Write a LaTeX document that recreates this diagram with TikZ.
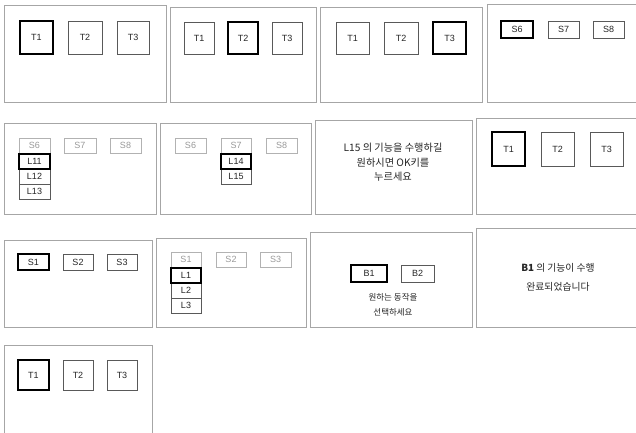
\documentclass[tikz,border=0pt]{standalone}
\usepackage{fontspec}
\setmainfont{Liberation Sans}
\newfontfamily\kr{Noto Sans CJK KR}
\newcommand\mkbox[7]{\node[#6, minimum width={#4-#2}, minimum height={#5-#3}] (#1) at ({(#2+#4)/2},{(#3+#5)/2}) {#7};}
\tikzset{
  panel/.style={draw=black!35, line width=1pt},
  bx/.style={draw=black!65, line width=0.9pt, inner sep=0pt, font=\fontsize{9}{10}\selectfont, text=black!85},
  sel/.style={bx, draw=black, line width=2.5pt},
  dim/.style={bx, draw=black!30, text=black!40},
  msg/.style={align=center, text=black!85, inner sep=0pt}
}
\begin{document}
\begin{tikzpicture}[x=1pt,y=-1pt]
\useasboundingbox (0,0) rectangle (636,432);
\clip (0,0) rectangle (636,432);
\fill[white] (0,0) rectangle (636,432);
% panels
\draw[panel] (4,5) rectangle (166,102);
\draw[panel] (170,7) rectangle (316,102);
\draw[panel] (320,7) rectangle (482,102);
\draw[panel] (487,4) rectangle (645,102);
\draw[panel] (4,123) rectangle (156,214);
\draw[panel] (160,123) rectangle (311,214);
\draw[panel] (315,120) rectangle (472,214);
\draw[panel] (476,118) rectangle (645,214);
\draw[panel] (4,240) rectangle (152,327);
\draw[panel] (156,238) rectangle (306,327);
\draw[panel] (310,232) rectangle (472,327);
\draw[panel] (476,228) rectangle (645,327);
\draw[panel] (4,345) rectangle (152,445);
% panel 1
\mkbox{aT1}{20}{21}{53}{54}{sel}{T1}
\mkbox{aT2}{68}{21}{102}{54}{bx}{T2}
\mkbox{aT3}{117}{21}{149}{54}{bx}{T3}
% panel 2
\mkbox{bT1}{184}{22}{214}{54}{bx}{T1}
\mkbox{bT2}{228}{22}{258}{54}{sel}{T2}
\mkbox{bT3}{272}{22}{302}{54}{bx}{T3}
% panel 3
\mkbox{cT1}{336}{22}{369}{54}{bx}{T1}
\mkbox{cT2}{384}{22}{418}{54}{bx}{T2}
\mkbox{cT3}{433}{22}{466}{54}{sel}{T3}
% panel 4
\mkbox{dS6}{501}{21}{533}{38}{sel}{S6}
\mkbox{dS7}{548}{21}{579}{38}{bx}{S7}
\mkbox{dS8}{593}{21}{624}{38}{bx}{S8}
% panel 5
\mkbox{eS6}{19}{138}{50}{153}{dim}{S6}
\mkbox{eS7}{64}{138}{96}{153}{dim}{S7}
\mkbox{eS8}{110}{138}{141}{153}{dim}{S8}
\mkbox{eL12}{19}{169}{50}{184}{bx}{L12}
\mkbox{eL13}{19}{184}{50}{199}{bx}{L13}
\mkbox{eL11}{19}{154}{50}{169}{sel}{L11}
% panel 6
\mkbox{fS6}{175}{138}{206}{153}{dim}{S6}
\mkbox{fS7}{221}{138}{251}{153}{dim}{S7}
\mkbox{fS8}{266}{138}{297}{153}{dim}{S8}
\mkbox{fL15}{221}{169}{251}{184}{bx}{L15}
\mkbox{fL14}{221}{154}{251}{169}{sel}{L14}
% panel 7
\node[msg, font=\kr\fontsize{10.2}{14.5}\selectfont] (gmsg) at (393,162.5) {L15 의 기능을 수행하길\\원하시면 OK키를\\누르세요};
% panel 8
\mkbox{hT1}{492}{132}{525}{166}{sel}{T1}
\mkbox{hT2}{541}{132}{574}{166}{bx}{T2}
\mkbox{hT3}{590}{132}{623}{166}{bx}{T3}
% panel 9
\mkbox{iS1}{18}{254}{49}{270}{sel}{S1}
\mkbox{iS2}{63}{254}{93}{270}{bx}{S2}
\mkbox{iS3}{107}{254}{137}{270}{bx}{S3}
% panel 10
\mkbox{jS1}{171}{252}{201}{267}{dim}{S1}
\mkbox{jS2}{216}{252}{246}{267}{dim}{S2}
\mkbox{jS3}{260}{252}{291}{267}{dim}{S3}
\mkbox{jL2}{171}{283}{201}{298}{bx}{L2}
\mkbox{jL3}{171}{298}{201}{313}{bx}{L3}
\mkbox{jL1}{171}{268}{201}{283}{sel}{L1}
% panel 11
\mkbox{kB1}{351}{265}{387}{282}{sel}{B1}
\mkbox{kB2}{401}{265}{434}{282}{bx}{B2}
\node[msg, font=\kr\fontsize{8.5}{15}\selectfont] (kmsg) at (393,304.5) {원하는 동작을\\선택하세요};
% panel 12
\node[msg, font=\kr\fontsize{9.8}{19}\selectfont] (lmsg) at (558,277.5) {\textbf{B1} 의 기능이 수행\\완료되었습니다};
% panel 13
\mkbox{mT1}{18}{360}{49}{390}{sel}{T1}
\mkbox{mT2}{63}{360}{93}{390}{bx}{T2}
\mkbox{mT3}{107}{360}{137}{390}{bx}{T3}
\end{tikzpicture}
\end{document}
